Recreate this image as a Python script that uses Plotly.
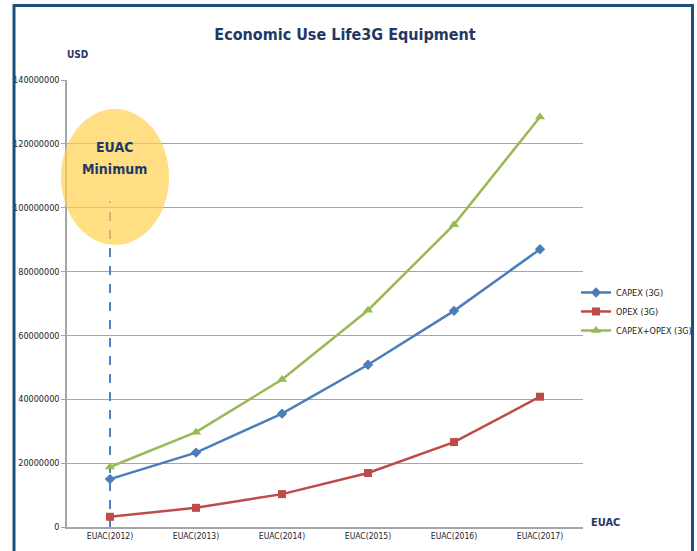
import plotly.graph_objects as go

categories = ["EUAC(2012)", "EUAC(2013)", "EUAC(2014)", "EUAC(2015)", "EUAC(2016)", "EUAC(2017)"]
capex = [15000000, 23300000, 35500000, 50800000, 67700000, 87000000]
opex = [3200000, 6000000, 10300000, 16900000, 26600000, 40800000]
total = [18800000, 29700000, 46200000, 67900000, 94700000, 128400000]
tick_vals = [0, 20000000, 40000000, 60000000, 80000000, 100000000, 120000000, 140000000]
tick_text = ["0", "20000000", "40000000", "60000000", "80000000", "100000000", "120000000", "140000000"]
min_category = "EUAC(2012)"
min_line_top = 102000000

FONT = "Liberation Sans Narrow, DejaVu Sans Condensed, Arial Narrow, Lato, sans-serif"
NAVY = "#1F3864"

fig = go.Figure()
fig.add_trace(go.Scatter(x=[min_category, min_category], y=[0, min_line_top], mode="lines",
                         line=dict(color="#4F81BD", width=2, dash="dash"), showlegend=False, hoverinfo="skip"))
fig.add_trace(go.Scatter(x=categories, y=capex, name="CAPEX (3G)", mode="lines+markers",
                         line=dict(color="#4A7EBB", width=2.5), marker=dict(symbol="diamond", size=8)))
fig.add_trace(go.Scatter(x=categories, y=opex, name="OPEX (3G)", mode="lines+markers",
                         line=dict(color="#BE4B48", width=2.5), marker=dict(symbol="square", size=8)))
fig.add_trace(go.Scatter(x=categories, y=total, name="CAPEX+OPEX (3G)", mode="lines+markers",
                         line=dict(color="#98B954", width=2.5), marker=dict(symbol="triangle-up", size=9)))

# ellipse highlight (paper refs so it is not clipped at the axis)
fig.add_shape(type="circle", xref="paper", yref="paper", x0=-0.0116, x1=0.1977, y0=0.6309, y1=0.9351,
              fillcolor="rgba(255,208,80,0.7)", line=dict(width=0), layer="above")

# frame
fig.add_shape(type="rect", xref="paper", yref="paper", x0=-0.1027, x1=1.2122, y0=-0.2, y1=1.1667,
              line=dict(color="#1F4E79", width=3), fillcolor="rgba(0,0,0,0)")

fig.add_annotation(x=0.093, y=0.851, xref="paper", yref="paper", text="<b>EUAC</b>", xanchor="center",
                   showarrow=False, font=dict(family=FONT, size=14, color=NAVY), yanchor="middle")
fig.add_annotation(x=0.093, y=0.802, xref="paper", yref="paper", text="<b>Minimum</b>", xanchor="center",
                   showarrow=False, font=dict(family=FONT, size=14, color=NAVY), yanchor="middle")
fig.add_annotation(x=-0.004, y=1.058, xref="paper", yref="paper", text="<b>USD</b>", showarrow=False,
                   font=dict(family=FONT, size=10, color=NAVY), xanchor="left", yanchor="middle")
fig.add_annotation(x=1.012, y=0.011, xref="paper", yref="paper", text="<b>EUAC</b>", showarrow=False,
                   font=dict(family=FONT, size=11, color=NAVY), xanchor="left", yanchor="middle")

fig.update_layout(
    width=697, height=551,
    margin=dict(l=67, r=114, t=80, b=24, autoexpand=False),
    paper_bgcolor="white", plot_bgcolor="white",
    title=dict(text="<b>Economic Use Life3G Equipment</b>", x=0.495, xanchor="center",
               y=1 - 34 / 551, yanchor="middle",
               font=dict(family=FONT, size=16, color=NAVY)),
    legend=dict(x=0.8264, y=0.4955, xref="container", yref="container", xanchor="left", yanchor="top",
                font=dict(family=FONT, size=9, color="#222"),
                bgcolor="rgba(0,0,0,0)", itemwidth=30),
    xaxis=dict(type="category", categoryorder="array", categoryarray=categories, showgrid=False,
               showline=True, linecolor="#A6A6A6", linewidth=1.5, ticks="", range=[-0.5, 5.5],
               tickfont=dict(family=FONT, size=8.5, color="#222")),
    yaxis=dict(range=[0, 140000000], tickvals=tick_vals, ticktext=tick_text, showgrid=True,
               gridcolor="#A6A6A6", gridwidth=1.2, showline=True, linecolor="#A6A6A6", linewidth=1.5,
               ticks="outside", ticklen=4, tickcolor="#A6A6A6", zeroline=False,
               tickfont=dict(family=FONT, size=9, color="#222")),
    showlegend=True,
)

fig.write_html("out.html", config={"displayModeBar": False},
               post_script="document.body.style.margin='0px';")
